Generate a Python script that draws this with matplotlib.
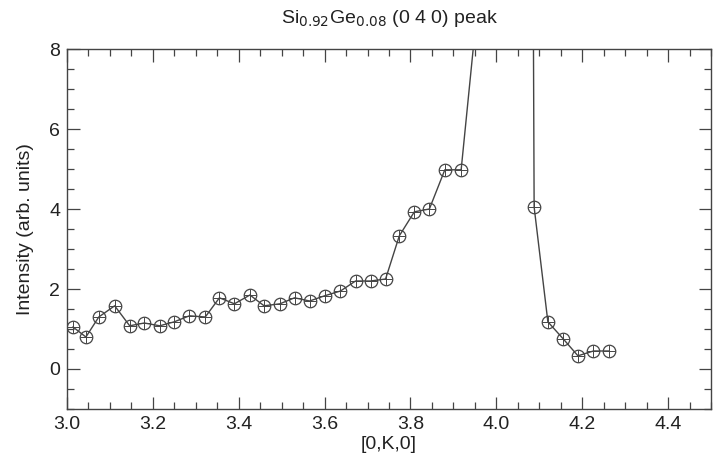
import matplotlib
matplotlib.use('Agg')
import matplotlib.pyplot as plt
from matplotlib.ticker import MultipleLocator

plt.rcParams['font.family'] = ['Liberation Sans', 'DejaVu Sans']

# K positions; peak points above 8 are off scale
k = [3.014, 3.044, 3.074, 3.111, 3.146, 3.180, 3.216, 3.250, 3.285, 3.322,
     3.355, 3.390, 3.426, 3.459, 3.496, 3.530, 3.565, 3.600, 3.637, 3.672,
     3.707, 3.742, 3.774, 3.809, 3.844, 3.880, 3.918, 3.960, 4.005, 4.055,
     4.088, 4.120, 4.156, 4.190, 4.226, 4.262]
intensity = [1.05, 0.80, 1.30, 1.58, 1.08, 1.15, 1.08, 1.18, 1.33, 1.30,
             1.78, 1.63, 1.85, 1.58, 1.63, 1.78, 1.70, 1.83, 1.95, 2.20,
             2.20, 2.25, 3.33, 3.93, 4.00, 4.98, 4.98, 9.5, 60.0, 90.0,
             4.05, 1.18, 0.75, 0.33, 0.45, 0.45]

col = '#444444'
fig = plt.figure(figsize=(7.19, 4.55), dpi=100)
ax = fig.add_axes([0.0932, 0.1011, 0.8957, 0.7912])

ax.plot(k, intensity, '-', color=col, lw=1.0)
ax.plot(k, intensity, 'o', ms=9, mfc='none', mec=col, mew=0.9)
ax.plot(k, intensity, '+', ms=9, mec=col, mew=0.7)

ax.set_xlim(3.0, 4.5)
ax.set_ylim(-1, 8)
ax.xaxis.set_major_locator(MultipleLocator(0.2))
ax.xaxis.set_minor_locator(MultipleLocator(0.05))
ax.yaxis.set_major_locator(MultipleLocator(2))
ax.yaxis.set_minor_locator(MultipleLocator(0.5))
ax.xaxis.set_major_formatter(matplotlib.ticker.FormatStrFormatter('%.1f'))
ax.tick_params(which='both', direction='in', top=True, right=True,
               colors=col, labelcolor='#222222', labelsize=14, width=0.9)
ax.tick_params(which='major', length=9, pad=5)
ax.tick_params(which='minor', length=5)
for s in ax.spines.values():
    s.set_color(col)
    s.set_linewidth(1.0)

ax.set_xlabel('[0,K,0]', fontsize=14, color='#222222', labelpad=2)
ax.set_ylabel('Intensity (arb. units)', fontsize=14, color='#222222', labelpad=11)
ax.set_title(r'Si$_{0.92}$Ge$_{0.08}$ (0 4 0) peak', fontsize=14,
             color='#222222', pad=19)

fig.savefig('out.png', dpi=100)
